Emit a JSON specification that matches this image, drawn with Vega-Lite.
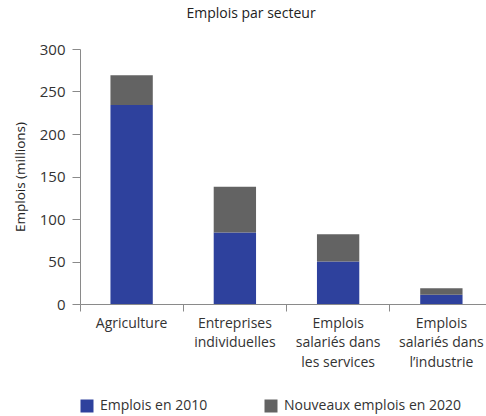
{
  "$schema": "https://vega.github.io/schema/vega-lite/v6.json",
  "width": 406,
  "height": 255,
  "autosize": {"type": "none"},
  "padding": {"left": 80, "top": 49, "right": 0, "bottom": 112},
  "config": {
    "font": "Open Sans",
    "view": {"stroke": null},
    "axis": {"domainColor": "#8a8a8a", "tickColor": "#8a8a8a", "labelColor": "#333333", "titleColor": "#222222", "labelFontSize": 14, "titleFontSize": 13.5, "titleFontWeight": "normal", "grid": false}
  },
  "title": {"text": "Emplois par secteur", "fontSize": 14, "fontWeight": "normal", "color": "#222222", "offset": 21, "dx": -32},
  "data": {
    "values": [
      {"secteur": "Agriculture", "serie": "Emplois en 2010", "emplois": 234},
      {"secteur": "Agriculture", "serie": "Nouveaux emplois en 2020", "emplois": 35},
      {"secteur": "Entreprises|individuelles", "serie": "Emplois en 2010", "emplois": 84},
      {"secteur": "Entreprises|individuelles", "serie": "Nouveaux emplois en 2020", "emplois": 54},
      {"secteur": "Emplois|salariés dans|les services", "serie": "Emplois en 2010", "emplois": 50},
      {"secteur": "Emplois|salariés dans|les services", "serie": "Nouveaux emplois en 2020", "emplois": 32},
      {"secteur": "Emplois|salariés dans|l’industrie", "serie": "Emplois en 2010", "emplois": 11},
      {"secteur": "Emplois|salariés dans|l’industrie", "serie": "Nouveaux emplois en 2020", "emplois": 7.5}
    ]
  },
  "mark": {"type": "bar", "width": {"band": 0.41}},
  "encoding": {
    "x": {
      "field": "secteur", "type": "nominal", "sort": null,
      "scale": {"paddingInner": 0, "paddingOuter": 0, "range": [0, 413]},
      "axis": {"title": null, "labelAngle": 0, "bandPosition": 0, "tickSize": 7, "labelPadding": 5, "labelLineHeight": 19.5, "labelExpr": "split(datum.label, '|')", "labelBaseline": "top"}
    },
    "y": {
      "field": "emplois", "type": "quantitative", "stack": "zero",
      "scale": {"domain": [0, 300]},
      "axis": {"values": [0, 50, 100, 150, 200, 250, 300], "title": "Emplois (millions)", "tickSize": 8, "labelPadding": 7, "labelFontSize": 15, "titlePadding": 12}
    },
    "order": {"field": "serie", "sort": "ascending"},
    "color": {
      "field": "serie", "type": "nominal",
      "scale": {"domain": ["Emplois en 2010", "Nouveaux emplois en 2020"], "range": ["#2E419D", "#636363"]},
      "legend": {"title": null, "orient": "none", "legendX": 0, "legendY": 350, "direction": "horizontal", "symbolType": "square", "symbolSize": 169, "symbolStrokeWidth": 0, "labelFontSize": 14, "labelColor": "#333333", "labelOffset": 6, "columnPadding": 56, "labelLimit": 300}
    }
  }
}
